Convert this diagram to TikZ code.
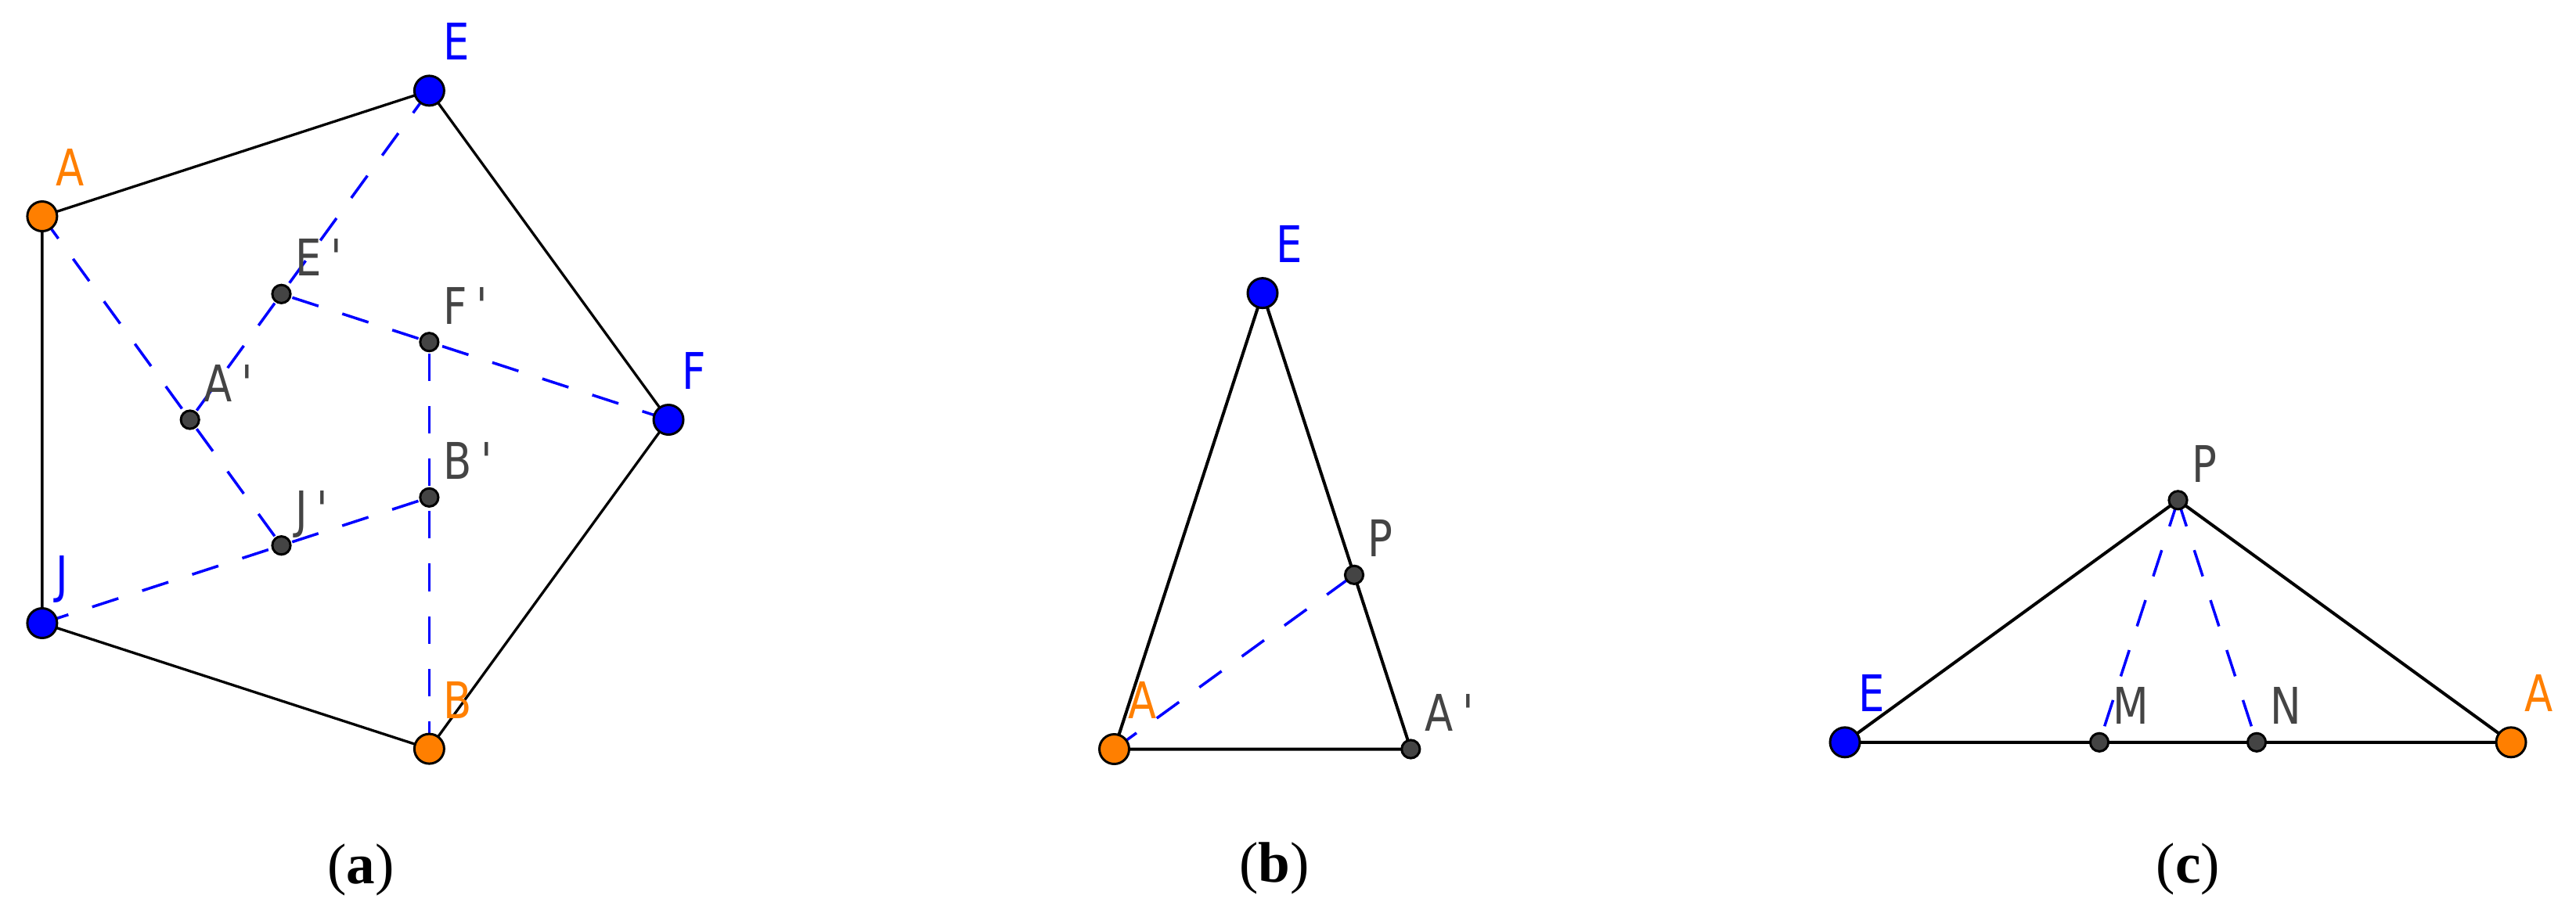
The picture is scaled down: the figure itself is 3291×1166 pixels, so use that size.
\documentclass[tikz,border=0pt]{standalone}
\usepackage{fontspec}
\setmainfont{Liberation Serif}
\newfontfamily\labfont{DejaVu Sans}[FakeStretch=0.82,Ligatures=TeXOff]
\usetikzlibrary{calc}
\definecolor{gblue}{RGB}{0,0,255}
\definecolor{gorange}{RGB}{255,127,0}
\definecolor{gdot}{RGB}{68,68,68}
\definecolor{gtext}{RGB}{68,68,68}
\tikzset{
  edgea/.style={black, line width=0.94pt},
  edgeb/.style={black, line width=1.14pt},
  dashline/.style={gblue, line width=1pt, dash pattern=on 10pt off 9.1pt},
  bigpt/.style={circle, draw=black, line width=0.85pt, minimum size=10.8pt, inner sep=0pt},
  smallpt/.style={circle, draw=black, fill=gdot, line width=0.85pt, minimum size=6.6pt, inner sep=0pt},
  lab/.style={inner sep=0pt, anchor=base west, font=\labfont\fontsize{18.35pt}{22pt}\selectfont},
  capt/.style={inner sep=0pt, font=\fontsize{20.8pt}{24pt}\selectfont}
}
\newcommand{\pr}[1]{#1\hspace{3.4pt}'}
\begin{document}
\begin{tikzpicture}[x=0.01cm,y=-0.01cm]
\useasboundingbox (0,0) rectangle (3291,1166);
% ---------- panel (a) ----------
\coordinate (aA) at (53.9,276.5);
\coordinate (aE) at (548.4,115.9);
\coordinate (aF) at (854,536.5);
\coordinate (aB) at (548.4,957.1);
\coordinate (aJ) at (53.9,796.5);
\coordinate (aAp) at (242.7,536.5);
\coordinate (aEp) at (359.5,375.8);
\coordinate (aFp) at (548.4,437.2);
\coordinate (aBp) at (548.4,635.8);
\coordinate (aJp) at (359.5,697.2);
\draw[dashline] (aA) -- (aJp);
\draw[dashline] (aE) -- (aAp);
\draw[dashline] (aF) -- (aEp);
\draw[dashline] (aB) -- (aFp);
\draw[dashline] (aJ) -- (aBp);
\draw[edgea] (aA) -- (aE) -- (aF) -- (aB) -- (aJ) -- cycle;
\node[bigpt, fill=gorange] (daA) at (aA) {};
\node[bigpt, fill=gblue] (daE) at (aE) {};
\node[bigpt, fill=gblue] (daF) at (aF) {};
\node[bigpt, fill=gorange] (daB) at (aB) {};
\node[bigpt, fill=gblue] (daJ) at (aJ) {};
\node[smallpt] (daAp) at (aAp) {};
\node[smallpt] (daEp) at (aEp) {};
\node[smallpt] (daFp) at (aFp) {};
\node[smallpt] (daBp) at (aBp) {};
\node[smallpt] (daJp) at (aJp) {};
\node[lab, text=gorange] (laA) at ($(aA)+(17,-39)$) {A};
\node[lab, text=gblue] (laE) at ($(aE)+(17,-39)$) {E};
\node[lab, text=gblue] (laF) at ($(aF)+(17,-39)$) {F};
\node[lab, text=gorange] (laB) at ($(aB)+(17,-39)$) {B};
\node[lab, text=gblue] (laJ) at ($(aJ)+(17,-39)$) {J};
\node[lab, text=gtext] (laAp) at ($(aAp)+(17,-23)$) {\pr{A}};
\node[lab, text=gtext] (laEp) at ($(aEp)+(17,-23)$) {\pr{E}};
\node[lab, text=gtext] (laFp) at ($(aFp)+(17,-23)$) {\pr{F}};
\node[lab, text=gtext] (laBp) at ($(aBp)+(17,-23)$) {\pr{B}};
\node[lab, text=gtext] (laJp) at ($(aJp)+(17,-23)$) {\pr{J}};
\node[capt] (capa) at (461,1112) {(\textbf{a})};
% ---------- panel (b) ----------
\coordinate (bE) at (1613,374.6);
\coordinate (bA) at (1423.5,957.5);
\coordinate (bAp) at (1802.3,957.5);
\coordinate (bP) at (1730,734.8);
\draw[dashline] (bA) -- (bP);
\draw[edgeb] (bE) -- (bA) -- (bAp) -- cycle;
\node[bigpt, fill=gblue] (dbE) at (bE) {};
\node[bigpt, fill=gorange] (dbA) at (bA) {};
\node[smallpt] (dbAp) at (bAp) {};
\node[smallpt] (dbP) at (bP) {};
\node[lab, text=gblue] (lbE) at ($(bE)+(17,-39)$) {E};
\node[lab, text=gorange] (lbA) at ($(bA)+(17,-39)$) {A};
\node[lab, text=gtext] (lbAp) at ($(bAp)+(17,-23)$) {\pr{A}};
\node[lab, text=gtext] (lbP) at ($(bP)+(17,-23)$) {P};
\node[capt] (capb) at (1628,1110) {(\textbf{b})};
% ---------- panel (c) ----------
\coordinate (cE) at (2357,948.8);
\coordinate (cA) at (3208,948.8);
\coordinate (cP) at (2782.5,639.3);
\coordinate (cM) at (2682,948.8);
\coordinate (cN) at (2883,948.8);
\draw[dashline] (cP) -- (cM);
\draw[dashline] (cP) -- (cN);
\draw[edgeb] (cE) -- (cP) -- (cA) -- cycle;
\node[bigpt, fill=gblue] (dcE) at (cE) {};
\node[bigpt, fill=gorange] (dcA) at (cA) {};
\node[smallpt] (dcP) at (cP) {};
\node[smallpt] (dcM) at (cM) {};
\node[smallpt] (dcN) at (cN) {};
\node[lab, text=gblue] (lcE) at ($(cE)+(17,-39)$) {E};
\node[lab, text=gorange] (lcA) at ($(cA)+(17,-39)$) {A};
\node[lab, text=gtext] (lcP) at ($(cP)+(17,-23)$) {P};
\node[lab, text=gtext] (lcM) at ($(cM)+(17,-23)$) {M};
\node[lab, text=gtext] (lcN) at ($(cN)+(17,-23)$) {N};
\node[capt] (capc) at (2795.5,1111) {(\textbf{c})};
\end{tikzpicture}
\end{document}
